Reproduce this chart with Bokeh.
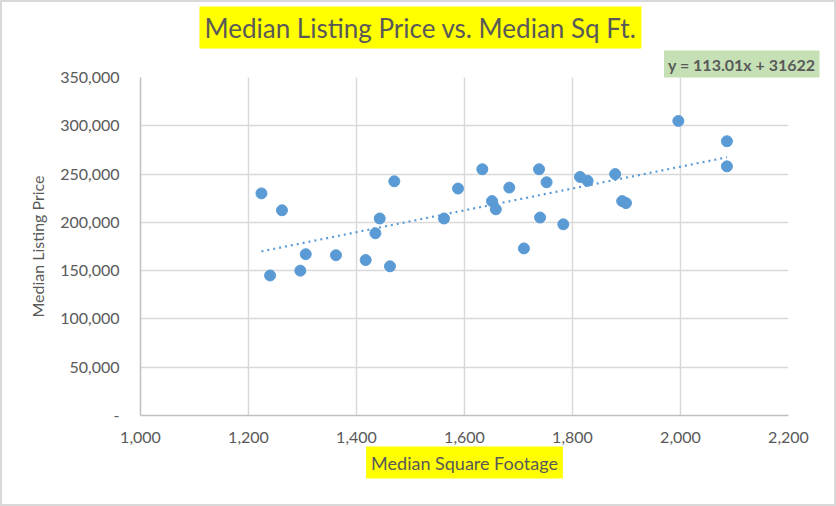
from bokeh.plotting import figure
from bokeh.models import (ColumnDataSource, Title, SingleIntervalTicker, NumeralTickFormatter,
                          CustomJSTickFormatter, Range1d)
from bokeh.embed import file_html
from bokeh.resources import INLINE

# ---- data ----
sqft = [1224, 1240, 1262, 1296, 1306, 1362, 1417, 1462, 1435, 1443,
        1470, 1562, 1588, 1633, 1651, 1658, 1683, 1710, 1738, 1740,
        1752, 1783, 1814, 1828, 1879, 1892, 1899, 1996, 2086, 2086]
price = [230000, 145000, 212500, 150000, 167000, 166000, 161000, 154500, 188700, 204000,
         242500, 204000, 235000, 255000, 222000, 213500, 236000, 173000, 255000, 205000,
         241500, 198000, 247000, 243000, 250000, 222000, 220000, 305000, 284000, 258000]
trend_slope = 113.01
trend_intercept = 31622
title_text = "Median Listing Price vs. Median Sq Ft."
equation_text = "y = 113.01x + 31622"
x_label = "Median Square Footage"
y_label = "Median Listing Price"

FONT = "Lato"
GRAY = "#595959"
BLUE = "#5B9BD5"

p = figure(width=836, height=506, output_backend="svg", toolbar_location=None,
           x_range=Range1d(1000, 2200), y_range=Range1d(0, 350000), title_location=None,
           min_border_left=140, min_border_right=48, min_border_top=77, min_border_bottom=91)
p.outline_line_color = None
p.background_fill_color = "white"
p.border_fill_color = None
p.styles = {"background-color": "white", "box-shadow": "inset 0 0 0 2px #D9D9D9"}

# axes
p.xaxis.ticker = SingleIntervalTicker(interval=200)
p.yaxis.ticker = SingleIntervalTicker(interval=50000)
p.xaxis.formatter = NumeralTickFormatter(format="0,0")
p.yaxis.formatter = CustomJSTickFormatter(code="return tick == 0 ? '-' : tick.toLocaleString('en-US');")
for ax in (p.xaxis, p.yaxis):
    ax.axis_line_color = "#BFBFBF"
    ax.axis_line_width = 1.5
    ax.major_tick_line_color = None
    ax.minor_tick_line_color = None
    ax.major_label_text_font = FONT
    ax.major_label_text_font_size = "16px"
    ax.major_label_text_color = GRAY
p.yaxis.major_label_standoff = 15
p.xaxis.major_label_standoff = 10
p.yaxis.axis_label = y_label
p.yaxis.axis_label_text_font = FONT
p.yaxis.axis_label_text_font_size = "16px"
p.yaxis.axis_label_text_font_style = "normal"
p.yaxis.axis_label_text_color = GRAY
p.yaxis.axis_label_standoff = 10

p.grid.grid_line_color = "#D9D9D9"
p.grid.grid_line_width = 1.5

# points
src = ColumnDataSource(dict(x=sqft, y=price))
p.scatter("x", "y", source=src, size=11, fill_color=BLUE, line_color=BLUE)

# trendline
tx = [min(sqft), max(sqft)]
ty = [trend_slope * v + trend_intercept for v in tx]
p.line(tx, ty, line_color=BLUE, line_width=2.2, line_dash="2 4")

# equation (closest to frame), then main title above it
p.add_layout(Title(text=equation_text, align="right", offset=-31, standoff=0,
                   text_font=FONT, text_font_size="16px", text_font_style="bold",
                   text_color=GRAY, background_fill_color="#C5E0B4", padding=4), "above")
p.add_layout(Title(text=title_text, align="left", offset=59, standoff=0,
                   text_font=FONT, text_font_size="26px", text_font_style="normal",
                   text_color=GRAY, background_fill_color="#FFFF00", padding=5), "above")
# x axis label as a boxed title below the axis
p.add_layout(Title(text=x_label, align="center", standoff=2, vertical_align="top",
                   text_font=FONT, text_font_size="18px", text_font_style="normal",
                   text_color=GRAY, background_fill_color="#FFFF00", padding=5), "below")

open("out.html", "w").write(file_html(p, INLINE))
